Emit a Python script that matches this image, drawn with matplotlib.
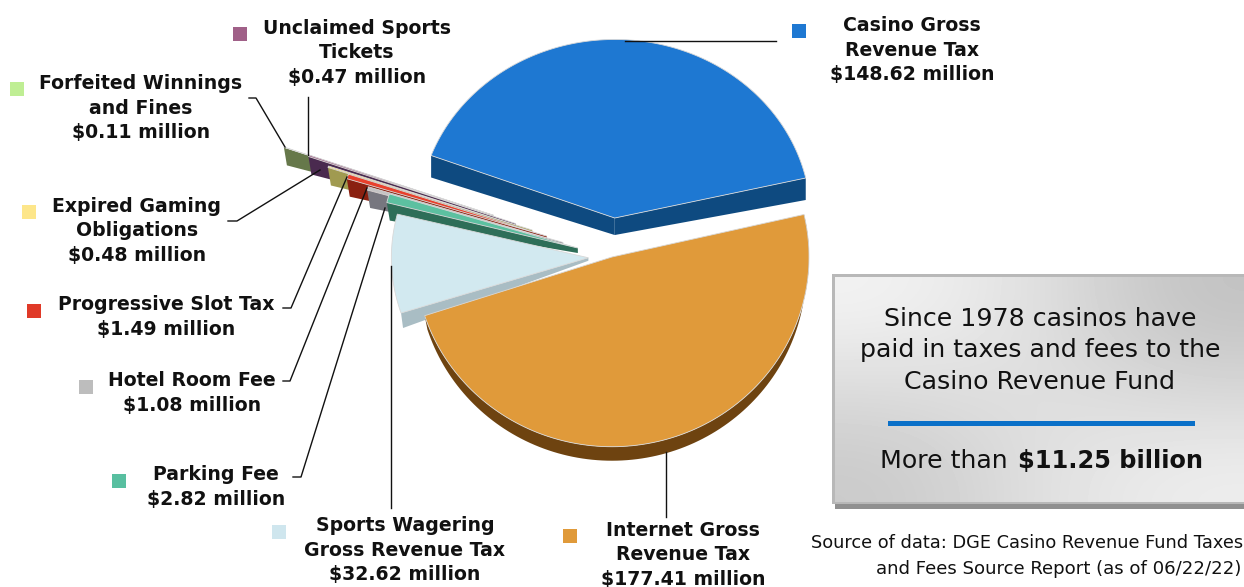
import numpy as np
import matplotlib
matplotlib.use("Agg")
import matplotlib.pyplot as plt

# data, clockwise from the top of the pie
names = ["Casino Gross\nRevenue Tax", "Internet Gross\nRevenue Tax", "Sports Wagering\nGross Revenue Tax",
         "Parking Fee", "Hotel Room Fee", "Progressive Slot Tax", "Expired Gaming\nObligations",
         "Unclaimed Sports\nTickets", "Forfeited Winnings\nand Fines"]
values = [148.62, 177.41, 32.62, 2.82, 1.08, 1.49, 0.48, 0.47, 0.11]

# styles
top_colors = ["#1e78d2", "#e09a3a", "#d2e9f0", "#5cc0a0", "#c4c4c4", "#e8402c", "#fde68a", "#a06088", "#bfee94"]
wall_colors = ["#0e4a80", "#6e4310", "#a9bdc4", "#2e6e58", "#77777f", "#8a2010", "#a09a50", "#4a2a4f", "#66784a"]
legend_colors = ["#1e78d2", "#e09a3a", "#cfe6ee", "#58bfa0", "#bdbdbd", "#e03a28", "#fde68a", "#a06088", "#bfee94"]

# layout, all in reference pixels
CX, CY = 612, 257
RX, RY = 197, 186
START_ANGLE = 159.5
explode = [0.21, 0.0, 0.12, 0.18, 0.26, 0.35, 0.43, 0.52, 0.64]
scale_x = [0.995, 1.0, 1.0, 1.0, 1.04, 1.067, 1.10, 1.12, 1.137]
scale_y = [0.96, 1.02, 0.96, 1.0, 0.97, 1.0, 1.01, 1.06, 1.05]
wall_outer = [22, 0, 15, 18, 18, 18, 18, 18, 18]
wall_tip = [17, 0, 3, 5, 4, 4, 4, 4, 4]
wall_skew = [0, 0, 2, 3, 3, 3, 3, 3, 3]
label_xy = [(912, 50), (683, 555), (405, 550), (216, 487), (192, 393), (166, 317), (137, 231), (357, 53), (141, 108)]
square_xy = [(799, 31), (570, 536), (279, 532), (119, 481), (86, 387), (34, 311), (29, 212), (240, 34), (17, 89)]
leaders = [[(776, 41), (625, 41)],
           [(666, 517), (666, 452)],
           [(391, 508), (391, 266)],
           [(293, 477), (301, 477), (385, 208)],
           [(283, 381), (290, 381), (367, 188)],
           [(283, 308), (291, 308), (347, 177)],
           [(228, 221), (237, 221), (320, 170)],
           [(308, 97), (308, 155)],
           [(249, 98), (256, 98), (285, 147)]]

fig = plt.figure(figsize=(12.44, 5.87), dpi=100)
ax = fig.add_axes([0, 0, 1, 1])
ax.set_xlim(0, 1244)
ax.set_ylim(587, 0)
ax.axis("off")


def slice_shape(i, a0, a1):
    mid = np.radians((a0 + a1) / 2)
    tx = CX + explode[i] * RX * np.cos(mid)
    ty = CY - explode[i] * RY * np.sin(mid)
    th = np.radians(np.linspace(a0, a1, 120))
    ax_x = tx + scale_x[i] * RX * np.cos(th)
    ax_y = ty - scale_y[i] * RY * np.sin(th)
    return tx, ty, ax_x, ax_y


def side_wall(tx, ty, ox, oy, i):
    ax.fill([tx, ox, ox + wall_skew[i], tx], [ty, oy, oy + wall_outer[i], ty + wall_tip[i]],
            color=wall_colors[i], lw=0, zorder=2 + 0.1 * (8 - i))


# angles come straight from the shares of the total
total = sum(values)
spans = [v / total * 360 for v in values]
angles = START_ANGLE - np.concatenate([[0], np.cumsum(spans)])

# far slices first, the orange one ends on top
for i in [8, 7, 6, 5, 4, 3, 2, 0, 1]:
    a0, a1 = angles[i], angles[i + 1]
    tx, ty, xs, ys = slice_shape(i, a0, a1)
    z = 2 + 0.1 * (8 - i)
    if i == 1:
        # rim below the big slice
        ax.fill(np.r_[xs, xs[::-1] * 0.985 + CX * 0.015], np.r_[ys, ys[::-1] + 14],
                color=wall_colors[i], lw=0, zorder=z)
    elif i == 0:
        side_wall(tx, ty, xs[0], ys[0], i)
        side_wall(tx, ty, xs[-1], ys[-1], i)
    else:
        # the lower edge of these slices is the one with the larger angle
        k = 0 if a0 > a1 else -1
        side_wall(tx, ty, xs[k], ys[k], i)
    ax.fill(np.r_[tx, xs], np.r_[ty, ys], facecolor=top_colors[i], edgecolor="#d8d8d8", lw=0.6, zorder=z + 0.01)

# labels, squares and leader lines
for i in range(len(values)):
    ax.text(label_xy[i][0], label_xy[i][1], f"{names[i]}\n${values[i]:.2f} million", ha="center", va="center",
            fontsize=13.6, fontweight="bold", color="#111111", linespacing=1.38, clip_on=True, zorder=6)
    ax.plot(*square_xy[i], marker="s", ms=10, color=legend_colors[i], mew=0, zorder=6)
    lx, ly = zip(*leaders[i])
    ax.plot(lx, ly, color="#111111", lw=1.0, zorder=5)

# info box
ax.fill([835, 1244, 1244, 835], [500, 500, 509, 509], color="#909090", lw=0, zorder=1)
ax.fill([832, 1244, 1244, 832], [274, 274, 504, 504], color="#b8b8b8", lw=0, zorder=1)
gradient = np.array([[0.95, 0.88, 0.76], [0.86, 0.88, 0.84], [0.79, 0.88, 0.93]])
ax.imshow(gradient, extent=(835, 1244, 502, 277), cmap="gray", vmin=0, vmax=1, interpolation="bicubic",
          aspect="auto", zorder=1.1)
ax.set_xlim(0, 1244)
ax.set_ylim(587, 0)

box_lines = ["Since 1978 casinos have", "paid in taxes and fees to the", "Casino Revenue Fund"]
for line, y in zip(box_lines, [319, 350, 382]):
    ax.text(1040, y, line, ha="center", va="center", fontsize=18.2, color="#111111", zorder=6)
ax.fill([888, 1195, 1195, 888], [421, 421, 426, 426], color="#0a70c8", lw=0, zorder=6)
ax.text(1008, 461, "More than", ha="right", va="center", fontsize=18.2, color="#111111", zorder=6)
ax.text(1018, 461, "$11.25 billion", ha="left", va="center", fontsize=17.3, fontweight="bold",
        color="#111111", zorder=6)

ax.text(811, 543, "Source of data: DGE Casino Revenue Fund Taxes", ha="left", va="center", fontsize=12.8,
        color="#111111", zorder=6)
ax.text(1241, 569, "and Fees Source Report (as of 06/22/22)", ha="right", va="center", fontsize=13.1,
        color="#111111", zorder=6)

fig.savefig("out.png", dpi=100)
